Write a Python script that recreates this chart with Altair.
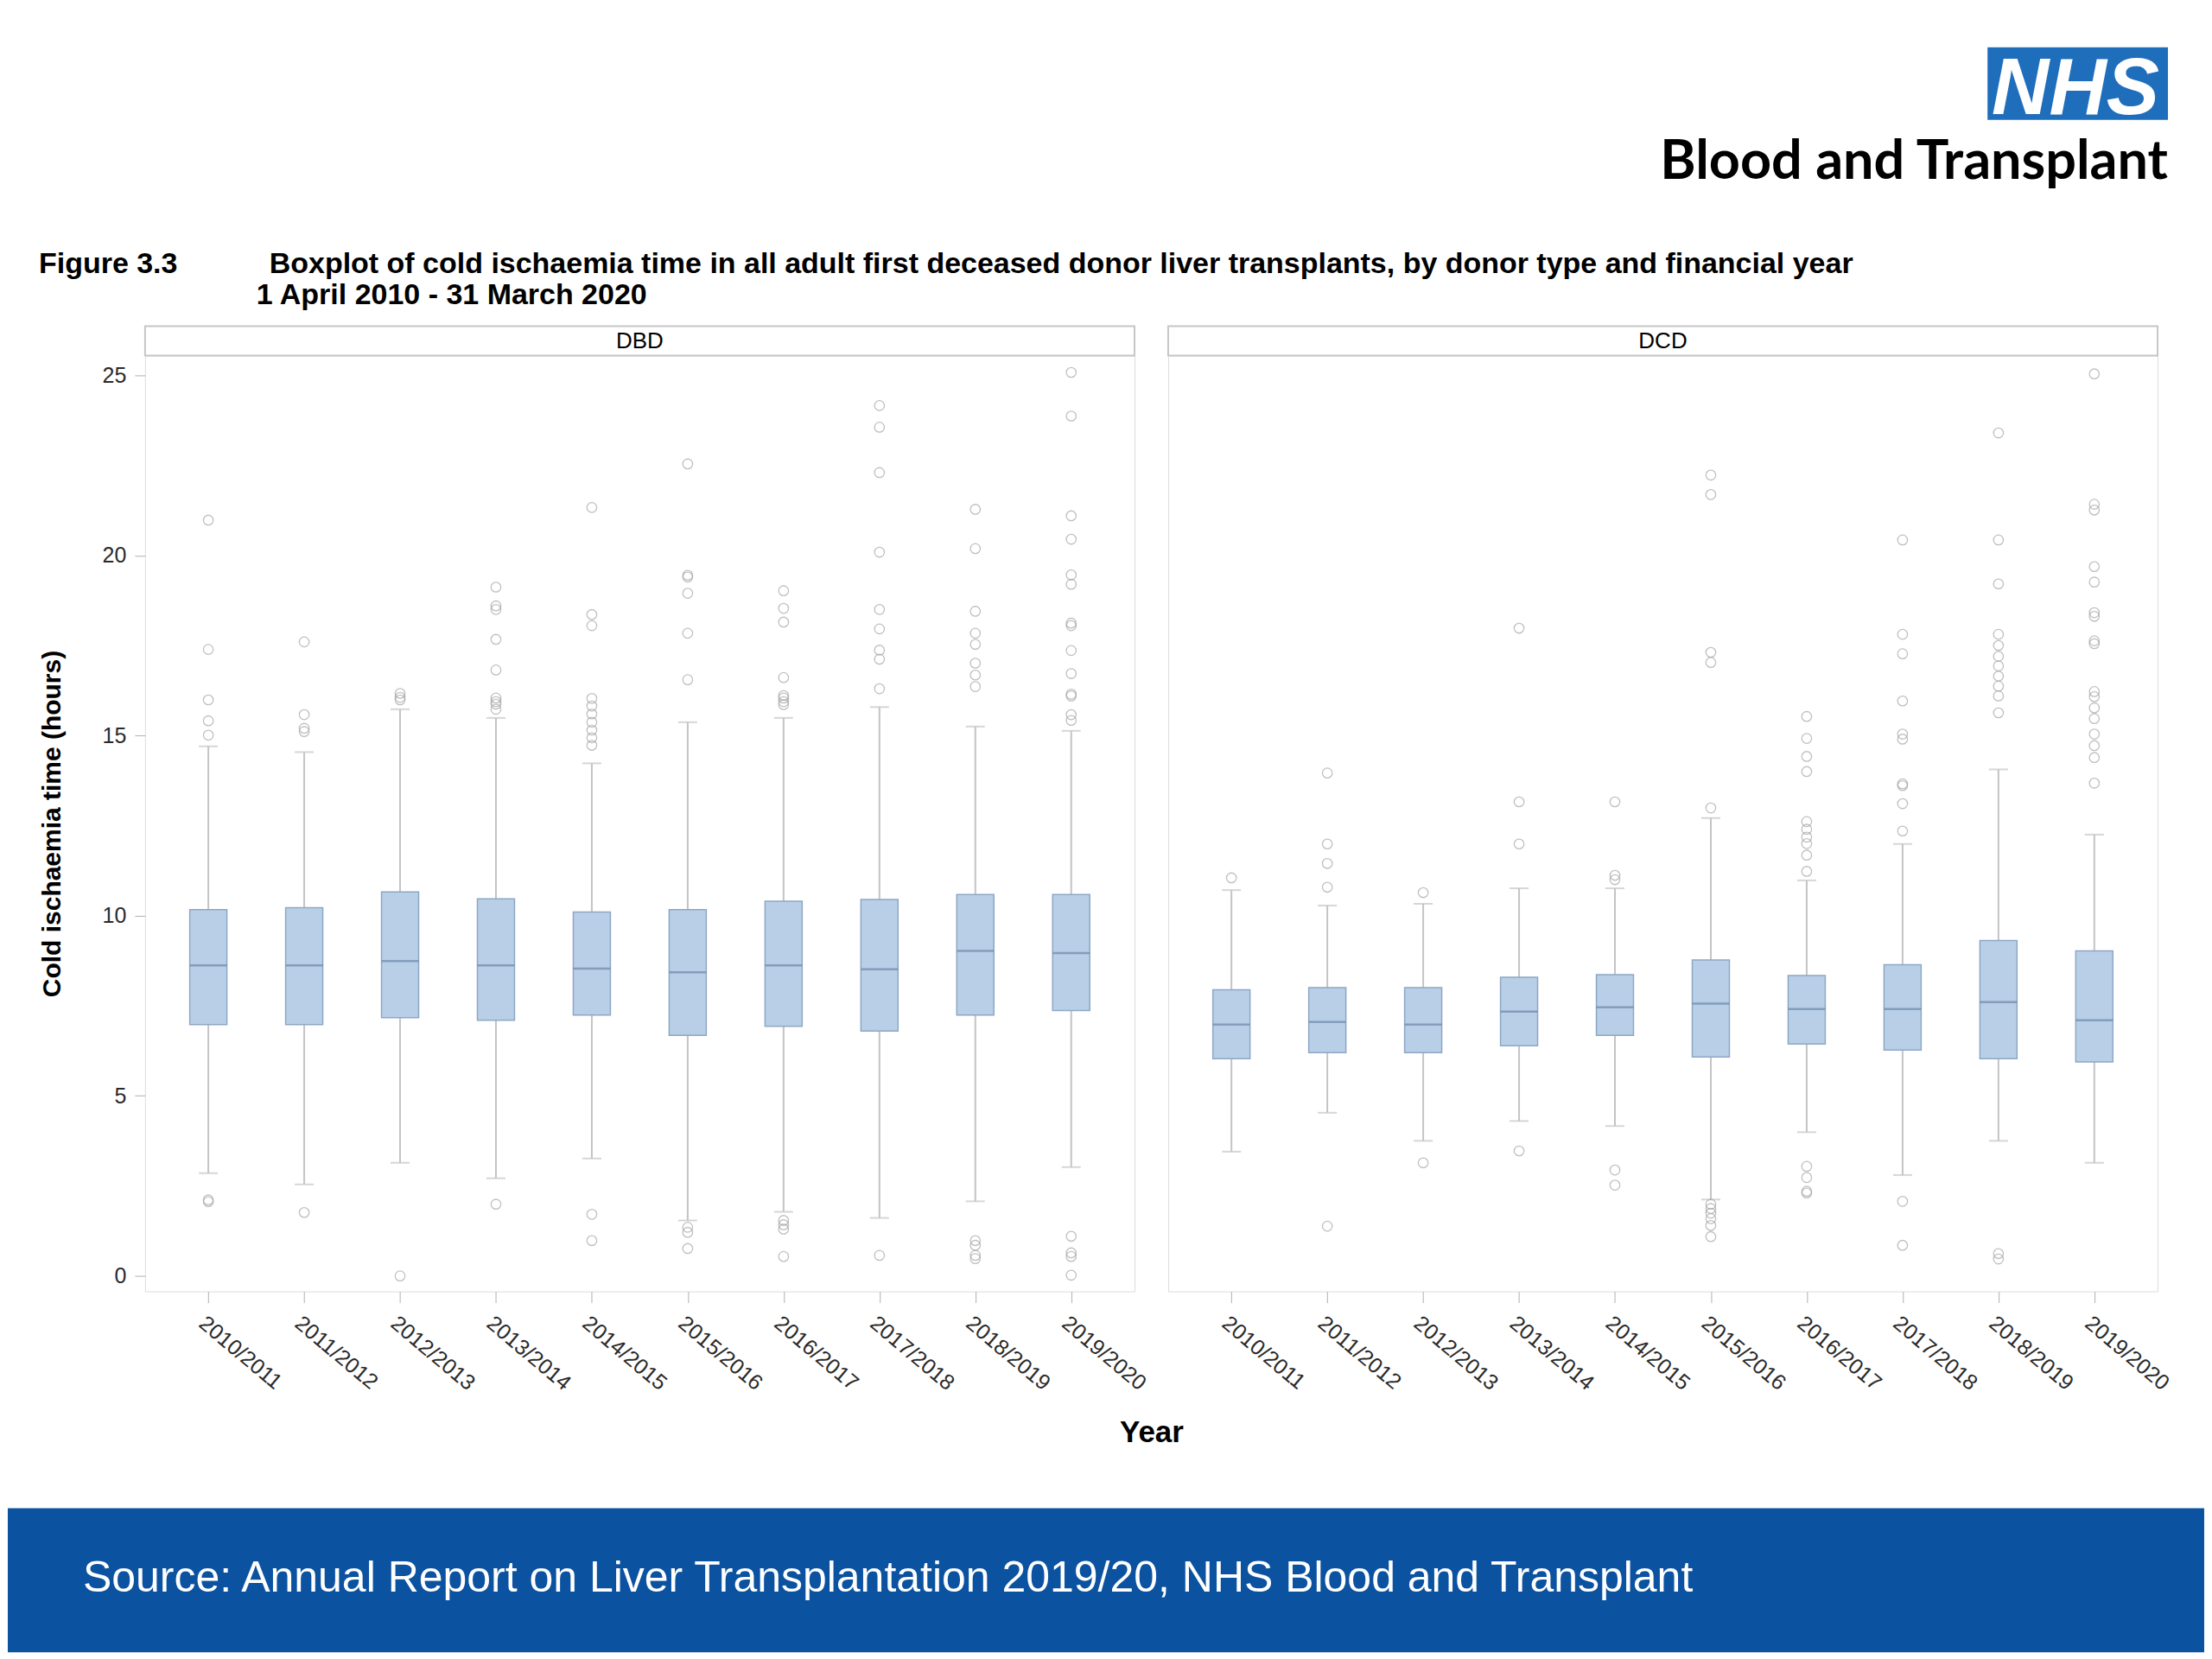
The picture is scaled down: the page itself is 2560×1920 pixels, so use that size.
import altair as alt
import pandas as pd

years = ["2010/2011", "2011/2012", "2012/2013", "2013/2014", "2014/2015",
         "2015/2016", "2016/2017", "2017/2018", "2018/2019", "2019/2020"]

# DBD box statistics (hours)
dbd_q1 = [6.98, 6.98, 7.17, 7.10, 7.24, 6.68, 6.93, 6.80, 7.24, 7.37]
dbd_med = [8.62, 8.62, 8.74, 8.62, 8.53, 8.43, 8.62, 8.51, 9.02, 8.96]
dbd_q3 = [10.17, 10.22, 10.66, 10.47, 10.10, 10.17, 10.40, 10.45, 10.59, 10.59]
dbd_lo = [2.85, 2.54, 3.14, 2.71, 3.26, 1.54, 1.78, 1.61, 2.07, 3.02]
dbd_hi = [14.70, 14.54, 15.73, 15.49, 14.23, 15.37, 15.49, 15.79, 15.25, 15.13]
dbd_outliers = [
    [20.98, 17.39, 15.99, 15.41, 15.01, 2.11, 2.06],
    [17.6, 15.58, 15.2, 15.11, 1.76],
    [16.17, 16.06, 15.99, 0.0],
    [19.12, 18.6, 18.5, 17.67, 16.82, 16.04, 15.94, 15.87, 15.73, 1.99],
    [21.33, 18.36, 18.05, 16.03, 15.82, 15.6, 15.37, 15.15, 14.94, 14.73, 1.71, 0.98],
    [22.54, 19.45, 19.4, 18.95, 17.84, 16.55, 1.35, 1.21, 0.76],
    [19.02, 18.53, 18.15, 16.61, 16.11, 16.04, 15.94, 15.86, 1.54, 1.42, 1.30, 0.54],
    [24.16, 23.56, 22.3, 20.09, 18.5, 17.96, 17.37, 17.12, 16.3, 0.57],
    [21.28, 20.19, 18.45, 17.84, 17.53, 17.01, 16.68, 16.36, 0.98, 0.85, 0.57, 0.48],
    [25.08, 23.87, 21.1, 20.45, 19.46, 19.2, 18.12, 18.05, 17.36, 16.72, 16.15, 16.1,
     15.58, 15.42, 1.1, 0.64, 0.54, 0.02],
]

# DCD box statistics (hours)
dcd_q1 = [6.03, 6.20, 6.20, 6.39, 6.68, 6.08, 6.44, 6.27, 6.03, 5.94]
dcd_med = [6.98, 7.05, 6.98, 7.34, 7.46, 7.56, 7.41, 7.41, 7.60, 7.10]
dcd_q3 = [7.94, 8.00, 8.00, 8.29, 8.36, 8.77, 8.34, 8.64, 9.31, 9.02]
dcd_lo = [3.45, 4.53, 3.75, 4.30, 4.16, 2.12, 3.99, 2.80, 3.75, 3.14]
dcd_hi = [10.71, 10.28, 10.33, 10.76, 10.76, 12.71, 10.98, 11.99, 14.06, 12.25]
dcd_outliers = [
    [11.05],
    [13.96, 11.99, 11.45, 10.79, 1.38],
    [10.64, 3.14],
    [17.98, 13.16, 11.99, 3.47],
    [13.16, 11.12, 11.0, 2.94, 2.52],
    [22.23, 21.69, 17.31, 17.03, 12.99, 1.99, 1.87, 1.74, 1.59, 1.40, 1.09],
    [15.53, 14.92, 14.42, 14.0, 12.61, 12.4, 12.18, 12.0, 11.68, 11.23, 3.04, 2.73, 2.35, 2.30],
    [20.43, 17.81, 17.27, 15.96, 15.04, 14.9, 13.66, 13.61, 13.11, 12.35, 2.07, 0.85],
    [23.4, 20.43, 19.21, 17.81, 17.5, 17.2, 16.93, 16.65, 16.37, 16.1, 15.63, 0.62, 0.47],
    [25.04, 21.42, 21.26, 19.69, 19.26, 18.41, 18.31, 17.63, 17.55, 16.22, 16.08, 15.77,
     15.47, 15.04, 14.72, 14.39, 13.68],
]

y_ticks = [0, 5, 10, 15, 20, 25]
panel_names = ["DBD", "DCD"]

title_fig = "Figure 3.3"
title_main = ("Boxplot of cold ischaemia time in all adult first deceased donor liver "
              "transplants, by donor type and financial year")
title_sub = "1 April 2010 - 31 March 2020"
source_text = "Source: Annual Report on Liver Transplantation 2019/20, NHS Blood and Transplant"

W, H = 1146, 1084
FONT = "Liberation Sans"
BORDER = "#c6c6c6"


def panel(name, q1, med, q3, lo, hi, outliers, left):
    stats = pd.DataFrame({"year": years, "q1": q1, "med": med, "q3": q3, "lo": lo, "hi": hi})
    rows = [(y, v) for y, vals in zip(years, outliers) for v in vals]
    outs = pd.DataFrame(rows, columns=["year", "value"])

    xcommon = dict(labelAngle=40, labelFontSize=25, labelColor="#2a2a2a", labelFont=FONT,
                   tickColor="#b0b0b0", tickSize=13, domain=False, labelPadding=11, zindex=1)
    if left:
        xaxis = alt.Axis(title="Year", titleX=W + 19.5, titleY=174, titleAlign="center",
                         titleBaseline="alphabetic", titleFontSize=35, titleFont=FONT,
                         titleFontWeight="bold", titleColor="black", **xcommon)
        yaxis = alt.Axis(values=y_ticks, labelFontSize=25, labelColor="#2a2a2a", labelFont=FONT,
                         tickColor="#b0b0b0", tickSize=12, domain=False, grid=False,
                         labelPadding=10, title="Cold ischaemia time (hours)",
                         titleFontSize=30, titleFont=FONT, titleFontWeight="bold",
                         titleColor="black", titleX=-107, titleY=H / 2, titleAngle=-90,
                         titleAlign="center", titleBaseline="middle", zindex=1)
    else:
        xaxis = alt.Axis(title=None, **xcommon)
        yaxis = None

    xscale = alt.Scale(type="point", padding=0.66, domain=years)
    yscale = alt.Scale(domain=[-0.43, 25.55], nice=False, zero=False)

    def xe():
        return alt.X("year:N", scale=xscale, axis=xaxis, sort=years)

    def ye(f):
        return alt.Y(f, type="quantitative", scale=yscale, axis=yaxis)

    layers = []
    if left:
        one = pd.DataFrame({"k": [0]})
        layers.append(alt.Chart(one).mark_rect(opacity=0).encode(
            x=alt.value(-159), x2=alt.value(2385), y=alt.value(-402), y2=alt.value(1502)))
        # header
        layers.append(alt.Chart(one).mark_rect(fill="#1f6ebc").encode(
            x=alt.value(2134), x2=alt.value(2343), y=alt.value(-357), y2=alt.value(-273)))
        layers.append(alt.Chart(one).mark_text(
            font=FONT, fontSize=92, fontWeight="bold", fontStyle="italic", color="white",
            align="center", baseline="alphabetic").encode(
            x=alt.value(2236), y=alt.value(-280), text=alt.value("NHS")))
        layers.append(alt.Chart(one).mark_text(
            font="Lato", fontSize=63, fontWeight="bold", color="black",
            align="right", baseline="alphabetic").encode(
            x=alt.value(2343), y=alt.value(-205), text=alt.value("Blood and Transplant")))
        layers.append(alt.Chart(one).mark_text(
            font=FONT, fontSize=34, fontWeight="bold", color="black",
            align="left", baseline="alphabetic").encode(
            x=alt.value(-123), y=alt.value(-96), text=alt.value(title_fig)))
        layers.append(alt.Chart(one).mark_text(
            font=FONT, fontSize=34, fontWeight="bold", color="black",
            align="left", baseline="alphabetic").encode(
            x=alt.value(144), y=alt.value(-96), text=alt.value(title_main)))
        layers.append(alt.Chart(one).mark_text(
            font=FONT, fontSize=34, fontWeight="bold", color="black",
            align="left", baseline="alphabetic").encode(
            x=alt.value(129), y=alt.value(-59), text=alt.value(title_sub)))
        # footer
        layers.append(alt.Chart(one).mark_rect(fill="#0b52a0").encode(
            x=alt.value(-159), x2=alt.value(2385), y=alt.value(1335), y2=alt.value(1502)))
        layers.append(alt.Chart(one).mark_text(
            font=FONT, fontSize=50, color="white", align="left", baseline="alphabetic").encode(
            x=alt.value(-72), y=alt.value(1432), text=alt.value(source_text)))

    strip_df = pd.DataFrame({"panel": [name]})
    layers.append(alt.Chart(strip_df).mark_rect(fill="white", stroke=BORDER, strokeWidth=2).encode(
        x=alt.value(0), x2=alt.value(W), y=alt.value(-34), y2=alt.value(0)))
    layers.append(alt.Chart(strip_df).mark_text(
        font=FONT, fontSize=26, color="black", align="center", baseline="middle").encode(
        x=alt.value(W / 2), y=alt.value(-16), text="panel:N"))

    layers.append(alt.Chart(stats).mark_rule(color="#c4c4c4", strokeWidth=2).encode(
        x=xe(), y=ye("lo"), y2="hi:Q"))
    layers.append(alt.Chart(stats).mark_tick(color="#c4c4c4", size=22, thickness=2).encode(
        x=xe(), y=ye("lo")))
    layers.append(alt.Chart(stats).mark_tick(color="#c4c4c4", size=22, thickness=2).encode(
        x=xe(), y=ye("hi")))
    layers.append(alt.Chart(stats).mark_bar(size=43, fill="#b8cfe7", stroke="#8ea7c5",
                                            strokeWidth=1.5).encode(
        x=xe(), y=ye("q1"), y2="q3:Q"))
    layers.append(alt.Chart(stats).mark_tick(color="#6d87a8", size=43, thickness=2.5).encode(
        x=xe(), y=ye("med")))
    layers.append(alt.Chart(outs).mark_point(filled=False, size=130, color="#a6a6a6",
                                             strokeWidth=1.3).encode(
        x=xe(), y=ye("value")))

    return alt.layer(*layers).properties(width=W, height=H)


left = panel(panel_names[0], dbd_q1, dbd_med, dbd_q3, dbd_lo, dbd_hi, dbd_outliers, True)
right = panel(panel_names[1], dcd_q1, dcd_med, dcd_q3, dcd_lo, dcd_hi, dcd_outliers, False)

chart = alt.hconcat(left, right, spacing=39, bounds="flush", padding=0).configure_view(
    stroke=BORDER, strokeWidth=2
).configure(font=FONT, background="white")

chart.save("out.html", embed_options={"renderer": "svg", "actions": False})
